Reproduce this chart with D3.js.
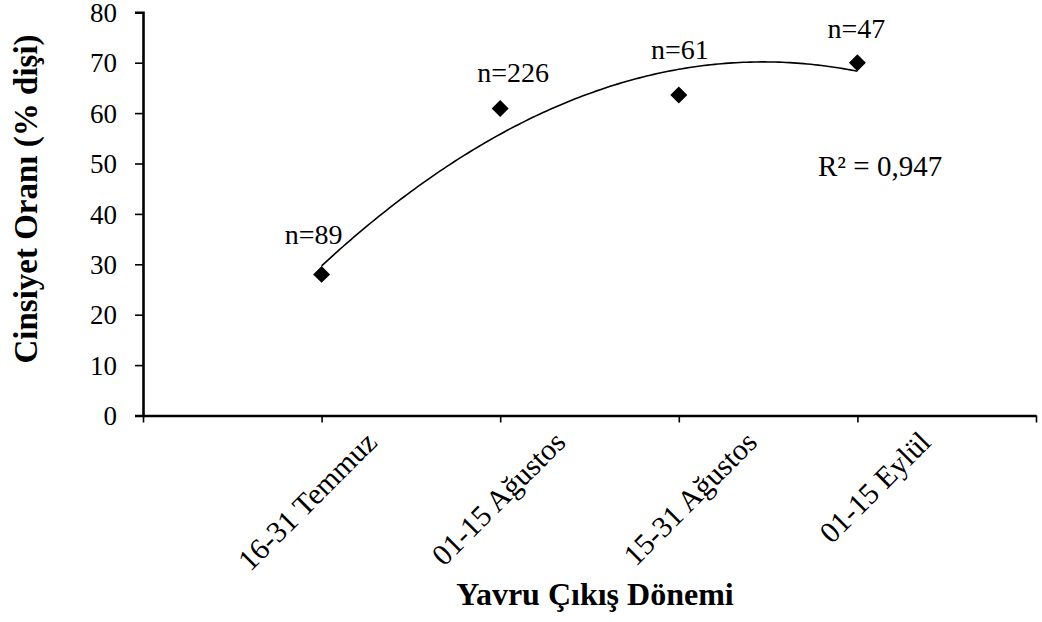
<!DOCTYPE html>
<html>
<head>
<meta charset="utf-8">
<script src="https://cdn.jsdelivr.net/npm/d3@7"></script>
<style>
  body { margin: 0; background: #fff; }
  text { font-family: "Liberation Serif", "Times New Roman", "DejaVu Serif", serif; fill: #000; }
</style>
</head>
<body>
<script>
// data
const periods = ["16-31 Temmuz", "01-15 Ağustos", "15-31 Ağustos", "01-15 Eylül"]
const femaleRatio = [28, 60.9, 63.6, 70]
const sampleLabels = ["n=89", "n=226", "n=61", "n=47"]
const yTicks = [0, 10, 20, 30, 40, 50, 60, 70, 80]
const r2Text = "R² = 0,947"

// small layout nudges for labels
const nLabelDx = [-8, 13, 1, -1]
const nLabelDy = [-30, -27, -36, -25]
const catLabelDx = [57, 67, 80, 75]

const width = 1042
const height = 622
const serif = "'Liberation Serif', 'Times New Roman', serif"

const svg = d3.select("body").append("svg")
    .attr("width", width)
    .attr("height", height)

const x = d3.scaleLinear().domain([0, 5]).range([143, 1036])
const y = d3.scaleLinear().domain([0, 80]).range([415.5, 12.3])

const pts = femaleRatio.map((v, i) => ({ xi: i + 1, v: v, label: sampleLabels[i], cat: periods[i], i: i }))

// y axis
const yAxis = d3.axisLeft(y).tickValues(yTicks).tickSize(8).tickPadding(18).tickFormat(d3.format("d"))
const gy = svg.append("g").attr("transform", "translate(143,0)").call(yAxis)
gy.attr("font-family", serif)
gy.select(".domain").attr("stroke-width", 2.6)
gy.selectAll(".tick line").attr("stroke-width", 1.6)
gy.selectAll(".tick text").style("font-size", "27px").style("font-family", serif)
    .attr("dy", "0.34em")

// x axis
const xAxis = d3.axisBottom(x).tickValues([0, 1, 2, 3, 4, 5]).tickSize(7).tickSizeOuter(0).tickFormat("")
const gx = svg.append("g").attr("transform", "translate(0,415.5)").call(xAxis)
gx.select(".domain").attr("stroke-width", 2.6)
gx.selectAll(".tick line").attr("stroke-width", 1.6)

// category labels, rotated
svg.selectAll(".cat")
    .data(pts)
    .enter()
    .append("text")
    .attr("class", "cat")
    .attr("text-anchor", "end")
    .style("font-size", "30px")
    .attr("transform", d => "translate(" + (x(d.xi) + catLabelDx[d.i]) + ",444) rotate(-45)")
    .text(d => d.cat)

// quadratic trend line (least squares on the points)
function fitQuad(xs, ys) {
    const n = xs.length
    let S = [[0, 0, 0], [0, 0, 0], [0, 0, 0]], b = [0, 0, 0]
    for (let k = 0; k < n; k++) {
        const p = [1, xs[k], xs[k] * xs[k]]
        for (let r = 0; r < 3; r++) {
            b[r] += p[r] * ys[k]
            for (let c = 0; c < 3; c++) S[r][c] += p[r] * p[c]
        }
    }
    for (let c = 0; c < 3; c++) {
        for (let r = c + 1; r < 3; r++) {
            const f = S[r][c] / S[c][c]
            for (let k = c; k < 3; k++) S[r][k] -= f * S[c][k]
            b[r] -= f * b[c]
        }
    }
    const coef = [0, 0, 0]
    for (let r = 2; r >= 0; r--) {
        let s = b[r]
        for (let k = r + 1; k < 3; k++) s -= S[r][k] * coef[k]
        coef[r] = s / S[r][r]
    }
    return coef
}
const coef = fitQuad(pts.map(d => d.xi), pts.map(d => d.v))
const trend = d3.range(1, 4.0001, 0.02).map(t => [t, coef[0] + coef[1] * t + coef[2] * t * t])

svg.append("path")
    .datum(trend)
    .attr("fill", "none")
    .attr("stroke", "#000")
    .attr("stroke-width", 1.6)
    .attr("d", d3.line().x(d => x(d[0])).y(d => y(d[1])))

// markers
svg.selectAll(".pt")
    .data(pts)
    .enter()
    .append("path")
    .attr("class", "pt")
    .attr("d", d3.symbol().type(d3.symbolSquare).size(144))
    .attr("fill", "#000")
    .attr("transform", d => "translate(" + x(d.xi) + "," + y(d.v) + ") rotate(45)")

// n labels
svg.selectAll(".nlab")
    .data(pts)
    .enter()
    .append("text")
    .attr("class", "nlab")
    .attr("text-anchor", "middle")
    .style("font-size", "28px")
    .attr("x", d => x(d.xi) + nLabelDx[d.i])
    .attr("y", d => y(d.v) + nLabelDy[d.i])
    .text(d => d.label)

svg.append("text")
    .attr("x", 818)
    .attr("y", 176)
    .style("font-size", "29px")
    .text(r2Text)

// axis titles
svg.append("text")
    .attr("text-anchor", "middle")
    .attr("x", 595)
    .attr("y", 605)
    .style("font-size", "32px")
    .style("font-weight", "bold")
    .text("Yavru Çıkış Dönemi")

svg.append("text")
    .attr("text-anchor", "middle")
    .attr("transform", "translate(37,199) rotate(-90)")
    .style("font-size", "33px")
    .style("font-weight", "bold")
    .text("Cinsiyet Oranı (% dişi)")
</script>
</body>
</html>
